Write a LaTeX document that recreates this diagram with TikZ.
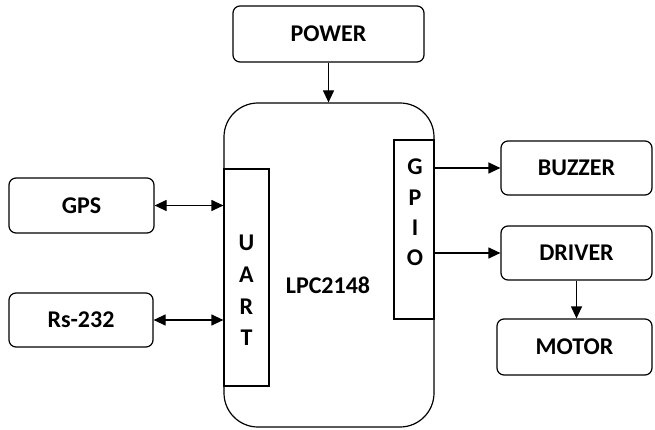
\documentclass[tikz,border=0pt]{standalone}
\usepackage{fontspec}
\setmainfont{Carlito}
\usetikzlibrary{arrows.meta}
\begin{document}
\begin{tikzpicture}[x=1pt,y=1pt,
  line width=1.2pt,
  lbl/.style={font=\fontsize{24}{28}\selectfont\bfseries},
  blk/.style={draw, rounded corners=7pt, inner sep=0pt, lbl},
  port/.style={draw, inner sep=0pt},
  arr/.style={-{Triangle[length=12pt,width=11pt]}},
  darr/.style={{Triangle[length=12pt,width=11pt]}-{Triangle[length=12pt,width=11pt]}}]
\useasboundingbox (0,0) rectangle (655,-430);
\node[blk, minimum width=191pt, minimum height=56pt] (power) at (328.5,-34) {POWER};
\node[draw, rounded corners=34pt, inner sep=0pt, minimum width=210pt, minimum height=324pt] (lpc) at (329,-265) {};
\node[lbl] (lpctext) at (328,-285) {LPC2148};
\node[port, fill=white, minimum width=45pt, minimum height=217pt] (uart) at (246.5,-277.5) {};
\node[port, fill=white, minimum width=40pt, minimum height=179pt] (gpio) at (414,-229.5) {};
\node[font=\fontsize{24}{31.7}\selectfont\bfseries, align=center, inner sep=0pt] (uarttext) at (246.5,-290.5) {U\\A\\R\\T};
\node[font=\fontsize{24}{30.3}\selectfont\bfseries, align=center, inner sep=0pt] (gpiotext) at (415,-212.5) {G\\P\\I\\O};
\node[blk, minimum width=145pt, minimum height=55pt] (gps) at (81.5,-205.5) {GPS};
\node[blk, minimum width=144pt, minimum height=54pt] (rs) at (81,-320) {Rs-232};
\node[blk, minimum width=151pt, minimum height=54pt] (buzzer) at (576.5,-168) {BUZZER};
\node[blk, minimum width=151pt, minimum height=54pt] (driver) at (576.5,-253) {DRIVER};
\node[blk, minimum width=155pt, minimum height=56pt] (motor) at (574.5,-347) {MOTOR};
\draw[arr] (power.south) -- (power.south |- lpc.north);
\draw[darr] (gps.east) -- (gps.east -| uart.west);
\draw[darr] (rs.east) -- (rs.east -| uart.west);
\draw[arr] (gpio.east |- buzzer.west) -- (buzzer.west);
\draw[arr] (gpio.east |- driver.west) -- (driver.west);
\draw[arr] (driver.south) -- (driver.south |- motor.north);
\end{tikzpicture}
\end{document}
